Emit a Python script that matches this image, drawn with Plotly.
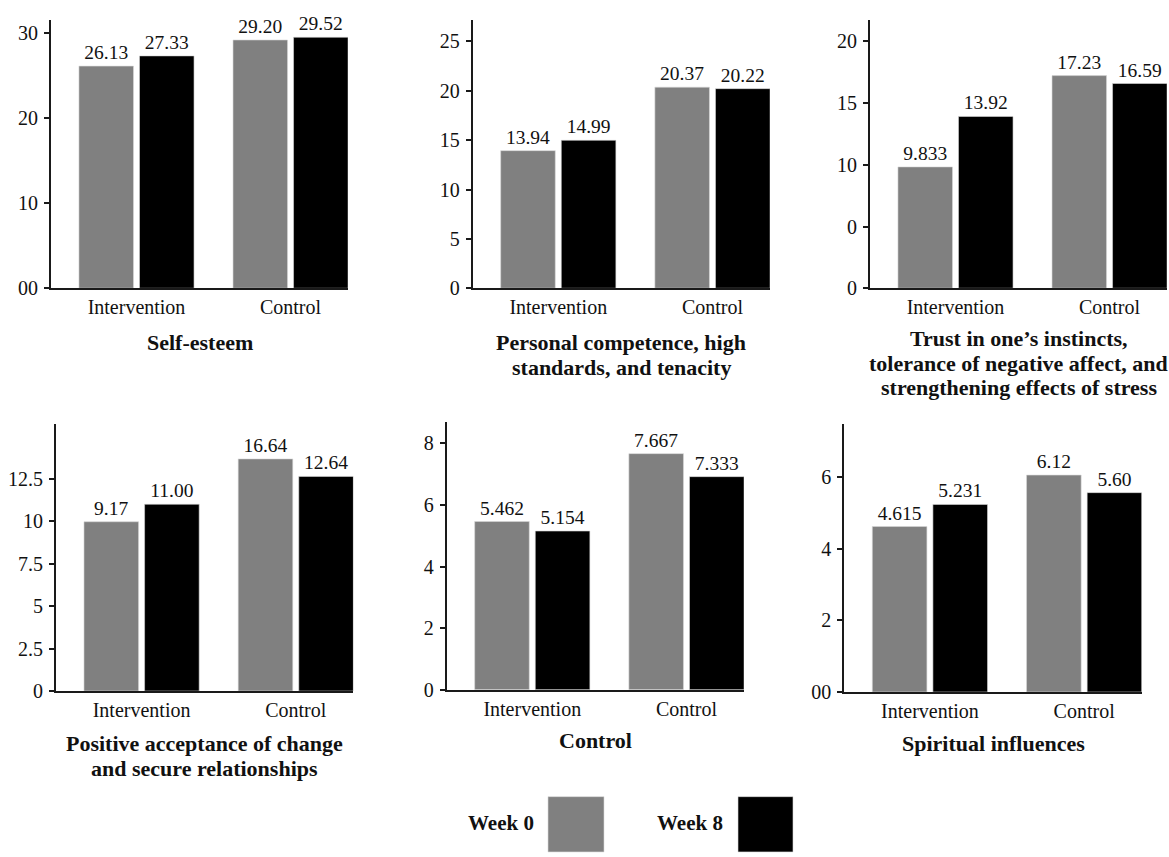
import plotly.graph_objects as go

W, H = 1169, 857

categories = ["Intervention", "Control"]
series_names = ["Week 0", "Week 8"]

panel_titles = [
    ["Self-esteem"],
    ["Personal competence, high", "standards, and tenacity"],
    ["Trust in one\u2019s instincts,", "tolerance of negative affect, and", "strengthening effects of stress"],
    ["Positive acceptance of change", "and secure relationships"],
    ["Control"],
    ["Spiritual influences"],
]

# bar heights as drawn in the picture
week0_values = [[26.13, 29.20], [13.94, 20.37], [9.833, 17.23], [9.97, 13.67], [5.462, 7.667], [4.615, 6.05]]
week8_values = [[27.33, 29.52], [14.99, 20.22], [13.92, 16.59], [11.00, 12.64], [5.154, 6.92], [5.231, 5.56]]

# value labels printed above the bars
week0_labels = [["26.13", "29.20"], ["13.94", "20.37"], ["9.833", "17.23"], ["9.17", "16.64"], ["5.462", "7.667"], ["4.615", "6.12"]]
week8_labels = [["27.33", "29.52"], ["14.99", "20.22"], ["13.92", "16.59"], ["11.00", "12.64"], ["5.154", "7.333"], ["5.231", "5.60"]]

ytick_vals = [
    [0, 10, 20, 30],
    [0, 5, 10, 15, 20, 25],
    [0, 5, 10, 15, 20],
    [0, 2.5, 5, 7.5, 10, 12.5],
    [0, 2, 4, 6, 8],
    [0, 2, 4, 6],
]
ytick_text = [
    ["00", "10", "20", "30"],
    ["0", "5", "10", "15", "20", "25"],
    ["0", "0", "10", "15", "20"],
    ["0", "2.5", "5", "7.5", "10", "12.5"],
    ["0", "2", "4", "6", "8"],
    ["00", "2", "4", "6"],
]

# layout (pixels)
x_dom_px = [(51, 348), (472.7, 770), (870, 1167), (56, 353.3), (446.7, 744), (844.3, 1141.7)]
y_dom_px = [(20.7, 292), (20.7, 292), (20.7, 292), (429.3, 700), (427.3, 698.7), (429.3, 701)]
y_tops = [31.5, 27.13, 21.7, 15.74, 8.7, 7.48]
title_first_y_px = [347, 347, 343, 753, 750, 753]
TITLE_LINE = 25

SERIF = "'Liberation Serif', 'Times New Roman', 'DejaVu Serif', serif"
GRAY = "#808080"
BLACK = "#000000"
AXIS = "#1a1a1a"
TXT = "#111111"

fig = go.Figure()
layout = dict(
    width=W, height=H, autosize=False,
    margin=dict(l=0, r=0, t=0, b=0),
    paper_bgcolor="white", plot_bgcolor="white",
    showlegend=False,
    barmode="group", bargap=0.214, bargroupgap=0.099,
    font=dict(family=SERIF, size=19, color=TXT),
)

annotations = []
shapes = []
for i in range(6):
    sfx = "" if i == 0 else str(i + 1)
    xa, ya = "x" + sfx, "y" + sfx
    for vals, labs, name, col in [
        (week0_values[i], week0_labels[i], series_names[0], GRAY),
        (week8_values[i], week8_labels[i], series_names[1], BLACK),
    ]:
        fig.add_trace(go.Bar(
            x=categories, y=vals, name=name, text=labs,
            textposition="outside", texttemplate="%{text}",
            textfont=dict(family=SERIF, size=19.5, color=TXT),
            constraintext="none", cliponaxis=False,
            marker=dict(color=col, line=dict(color="#d8d8d8", width=0.6)),
            xaxis=xa, yaxis=ya, offsetgroup=name,
        ))
    x0, x1 = x_dom_px[i]
    yt, yb = y_dom_px[i]
    layout["xaxis" + sfx] = dict(
        domain=[x0 / W, x1 / W], anchor=ya,
        range=[-0.555, 1.373], type="category",
        showline=True, linecolor=AXIS, linewidth=2,
        ticks="", showgrid=False, zeroline=False,
        tickfont=dict(family=SERIF, size=20, color=TXT),
    )
    layout["yaxis" + sfx] = dict(
        domain=[1 - yb / H, 1 - yt / H], anchor=xa,
        range=[0, y_tops[i]],
        tickvals=ytick_vals[i], ticktext=ytick_text[i],
        showline=True, linecolor=AXIS, linewidth=2,
        ticks="outside", ticklen=5, tickwidth=1.5, tickcolor=AXIS,
        ticklabelstandoff=2,
        showgrid=False, zeroline=False,
        tickfont=dict(family=SERIF, size=20, color=TXT),
    )
    for k, line in enumerate(panel_titles[i]):
        annotations.append(dict(
            text="<b>" + line + "</b>",
            x=(x0 + x1) / 2 / W, y=1 - (title_first_y_px[i] + k * TITLE_LINE) / H,
            xref="paper", yref="paper", xanchor="center", yanchor="middle",
            showarrow=False, align="center",
            font=dict(family=SERIF, size=22, color=TXT),
        ))

# legend drawn manually (large swatches)
legend_items = [(series_names[0], GRAY, 501, 548, 604), (series_names[1], BLACK, 690, 738, 793)]
for name, col, tx, r0, r1 in legend_items:
    annotations.append(dict(
        text="<b>" + name + "</b>", x=tx / W, y=1 - 834 / H,
        xref="paper", yref="paper", xanchor="center", yanchor="middle",
        showarrow=False, font=dict(family=SERIF, size=21, color=TXT),
    ))
    shapes.append(dict(
        type="rect", xref="paper", yref="paper",
        x0=r0 / W, x1=r1 / W, y0=1 - 863 / H, y1=1 - 807 / H,
        fillcolor=col, line=dict(color="#d8d8d8", width=0.6),
    ))

layout["annotations"] = annotations
layout["shapes"] = shapes
fig.update_layout(**layout)
fig.write_html(
    "out.html",
    post_script="document.body.style.margin='0';document.body.style.overflow='hidden';",
    config={"displayModeBar": False},
)
